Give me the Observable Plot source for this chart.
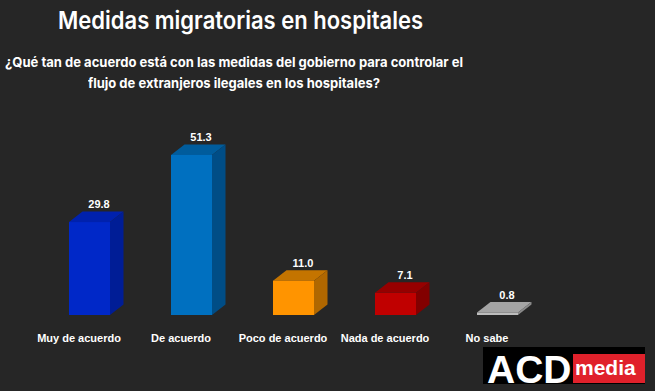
<!DOCTYPE html>
<html><head><meta charset="utf-8">
<script src="https://cdn.jsdelivr.net/npm/d3@7"></script>
<script src="https://cdn.jsdelivr.net/npm/@observablehq/plot@0.6"></script>
<style>
html,body{margin:0;padding:0;background:#262626;}
#wrap{position:relative;width:655px;height:391px;overflow:hidden;background:#262626;}
#head{position:relative;height:100px;}
.t{position:absolute;white-space:nowrap;color:#fff;transform-origin:0 0;line-height:1;}
#title{font-family:Inter,Roboto,sans-serif;font-weight:600;font-size:24.3px;left:58px;top:8px;}
.sub{font-family:Inter,Roboto,sans-serif;font-weight:700;font-size:13.5px;}
#s1{left:5px;top:55.8px;}
#s2{left:88px;top:77.3px;}
#chart{position:relative;height:291px;}
#logo{position:absolute;left:483px;top:347px;width:162px;height:37px;background:#000;}
#logo .acd{position:absolute;left:4px;top:3px;font-family:"Liberation Sans",Arial,sans-serif;font-weight:bold;font-size:39px;line-height:1;color:#fff;}
#logo .red{position:absolute;left:90px;top:7px;width:72px;height:29px;background:#e0212b;}
#logo .media{position:absolute;left:2px;top:3px;font-family:"Liberation Sans",Arial,sans-serif;font-weight:bold;font-size:21px;line-height:1;color:#fff;}
</style>
</head><body>
<div id="wrap">
  <div id="head">
    <div id="title" class="t fit" data-w="365">Medidas migratorias en hospitales</div>
    <div id="s1" class="t sub fit" data-w="458">¿Qué tan de acuerdo está con las medidas del gobierno para controlar el</div>
    <div id="s2" class="t sub fit" data-w="292">flujo de extranjeros ilegales en los hospitales?</div>
  </div>
  <div id="chart"></div>
  <div id="logo"><div class="acd">ACD</div><div class="red"><div class="media">media</div></div></div>
</div>
<script>
const categories = ["Muy de acuerdo", "De acuerdo", "Poco de acuerdo", "Nada de acuerdo", "No sabe"];
const values = [29.8, 51.3, 11.0, 7.1, 0.8];
const frontColors = ["#0028c8", "#0070c0", "#ff9400", "#c00000", "#bdbdbd"];
const topColors = ["#0021ad", "#005c9c", "#c47400", "#960000", "#a4a4a4"];
const sideColors = ["#001d96", "#004d86", "#b06700", "#820000", "#8a8a8a"];

const data = categories.map((c, i) => ({cat: c, val: values[i], front: frontColors[i], top: topColors[i], side: sideColors[i]}));

const DX = 13.5, DY = 10.5;
const font = "'Liberation Sans', Arial, sans-serif";

function faces(index, scales) {
  const g = d3.create("svg:g");
  const bw = scales.x.bandwidth ? scales.x.bandwidth() : 41;
  for (const d of data) {
    const x0 = scales.x(d.cat), x1 = x0 + bw;
    const yt = scales.y(d.val), yb = scales.y(0);
    const topPts = [[x0, yt], [x1, yt], [x1 + DX, yt - DY], [x0 + DX, yt - DY]];
    const sidePts = [[x1, yt], [x1 + DX, yt - DY], [x1 + DX, yb - DY], [x1, yb]];
    g.append("polygon").attr("points", topPts.map(p => p.join(",")).join(" ")).attr("fill", d.top);
    g.append("polygon").attr("points", sidePts.map(p => p.join(",")).join(" ")).attr("fill", d.side);
  }
  return g.node();
}

const plot = Plot.plot({
  width: 655,
  height: 291,
  margin: 0,
  style: {background: "transparent", color: "#fff", overflow: "visible"},
  x: {type: "band", domain: categories, range: [39, 549], paddingInner: 0.598, paddingOuter: 0.299, axis: null},
  y: {domain: [0, 60], range: [215, 215 - 60 * 3.12], axis: null},
  color: {type: "identity"},
  marks: [
    faces,
    Plot.barY(data, {x: "cat", y: "val", fill: "front", inset: 0}),
    Plot.text(data, {x: "cat", y: "val", text: d => d.val.toFixed(1), dx: 9, dy: -18, fill: "#fff", fontWeight: "bold", fontSize: 11, fontFamily: font}),
    Plot.text(data, {x: "cat", y: () => 0, text: "cat", dx: -11, dy: 23, fill: "#fff", fontWeight: "bold", fontSize: 11, fontFamily: font})
  ]
});
document.getElementById("chart").appendChild(plot);

document.querySelectorAll(".fit").forEach(el => {
  const target = +el.dataset.w;
  const w = el.getBoundingClientRect().width;
  if (w > 0) el.style.transform = `scaleX(${target / w})`;
});
</script>
</body></html>
